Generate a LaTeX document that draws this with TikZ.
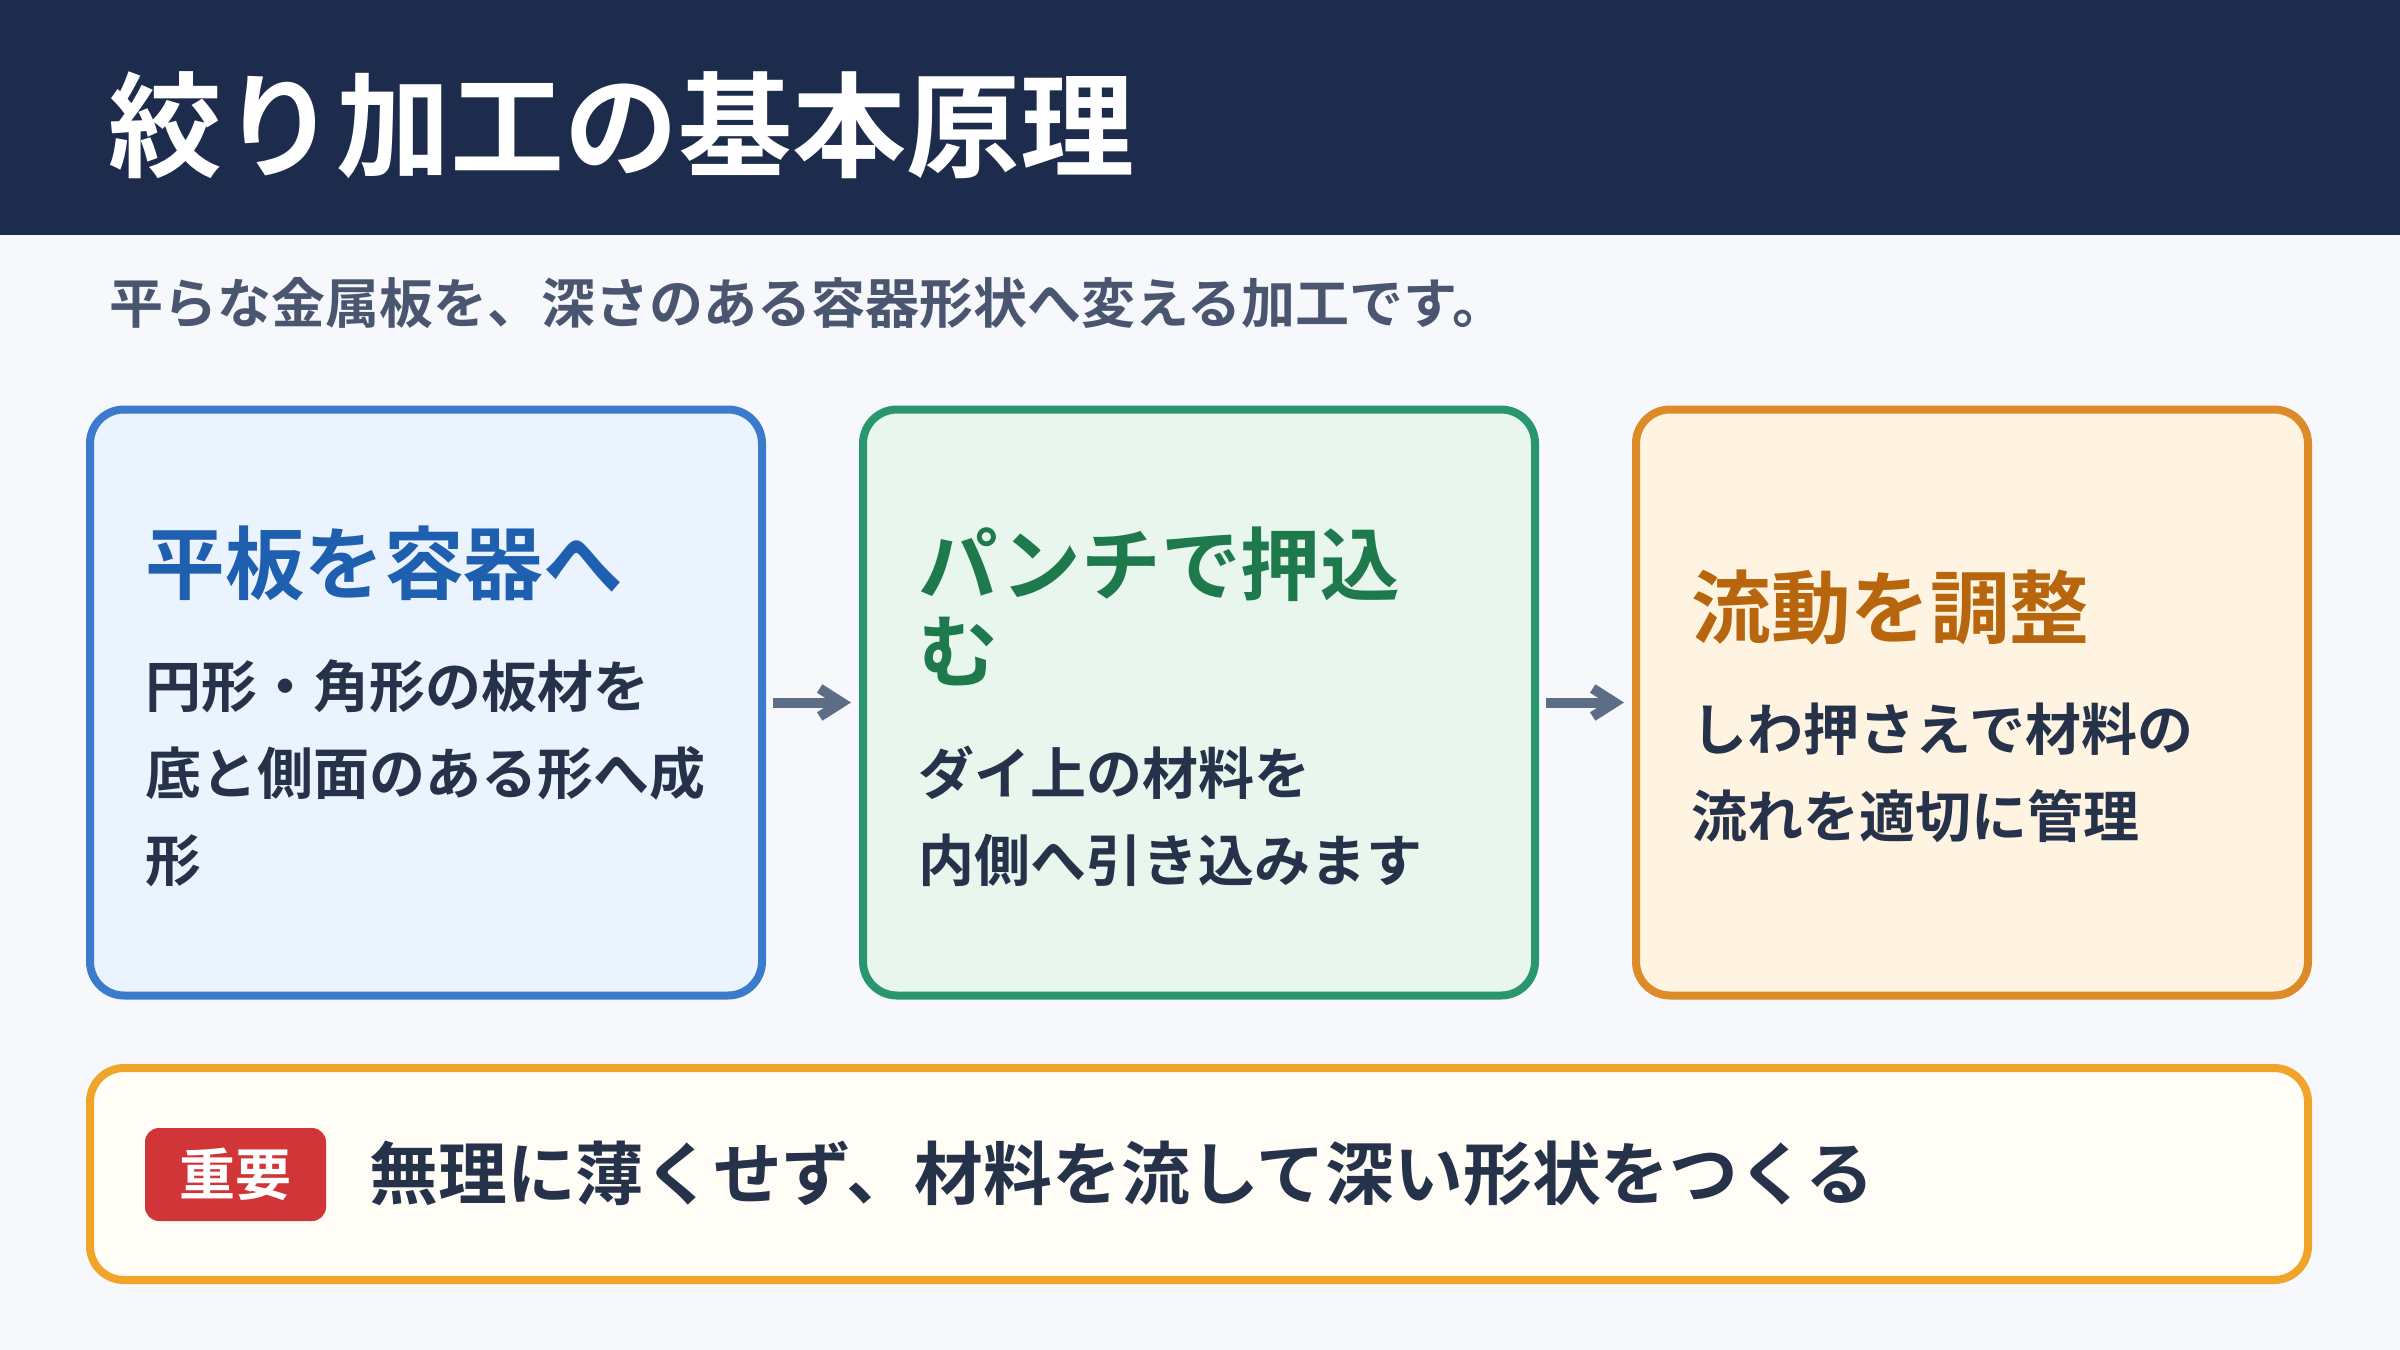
\documentclass[tikz,border=0pt]{standalone}
\usepackage{fontspec}
\setmainfont{Noto Sans CJK JP}[BoldFont={Noto Sans CJK JP Bold}]
\usepackage{xcolor}
\usetikzlibrary{arrows.meta, positioning}

\definecolor{pagebg}{HTML}{F6F8FC}
\definecolor{headbg}{HTML}{1D2B4C}
\definecolor{subgray}{HTML}{4A5670}
\definecolor{ink}{HTML}{25324A}
\definecolor{arrgray}{HTML}{5E6D86}
\definecolor{blueln}{HTML}{3A7BCB}
\definecolor{bluebg}{HTML}{EBF3FF}
\definecolor{bluetx}{HTML}{1F5FAF}
\definecolor{greenln}{HTML}{2A9670}
\definecolor{greenbg}{HTML}{E8F6EE}
\definecolor{greentx}{HTML}{1E7A4C}
\definecolor{orangeln}{HTML}{DD8A28}
\definecolor{orangebg}{HTML}{FFF4E1}
\definecolor{orangetx}{HTML}{B8660E}
\definecolor{noteln}{HTML}{F0A52A}
\definecolor{notebg}{HTML}{FFFDF6}
\definecolor{badgered}{HTML}{D13537}

\tikzset{
  stage/.style={draw=#1ln, fill=#1bg, line width=4pt, rounded corners=17pt,
    minimum width=336pt, minimum height=293pt, inner sep=0pt},
  stagehead/.style={anchor=west, inner sep=0pt, align=left, text=#1tx,
    font=\fontsize{39.8pt}{43.5pt}\selectfont\bfseries},
  stagetext/.style={anchor=west, inner sep=0pt, align=left, text=ink,
    font=\fontsize{28pt}{43.5pt}\selectfont\bfseries},
  flow/.style={arrgray, line width=5pt, -{Straight Barb[length=11pt,width=14pt]},
    shorten <=3.5pt, shorten >=4pt},
}

\begin{document}
\begin{tikzpicture}[x=0.5pt, y=-0.5pt]
  % page and header band
  \fill[pagebg] (0,0) rectangle (2400,1350);
  \useasboundingbox (0,0) rectangle (2400,1350);
  \fill[headbg] (0,0) rectangle (2400,235);

  \node[anchor=west, inner sep=0pt, text=white,
    font=\fontsize{57pt}{60pt}\selectfont\bfseries] (title) at (108,125) {絞り加工の基本原理};
  \node[anchor=west, inner sep=0pt, text=subgray,
    font=\fontsize{27pt}{30pt}\selectfont\bfseries] (lead) at (109,303) {平らな金属板を、深さのある容器形状へ変える加工です。};

  % three stages
  \foreach[count=\i] \col/\x in {blue/426, green/1199, orange/1972}
    \node[stage=\col] (box\i) at (\x,702.5) {};

  \node[stagehead=blue] (head1) at (145,563) {平板を容器へ};
  \node[stagetext] (body1) at (145,773) {円形・角形の板材を\\底と側面のある形へ成\\形};

  \node[stagehead=green] (head2) at (918,606.5) {パンチで押込\\む};
  \node[stagetext] (body2) at (918,816.5) {ダイ上の材料を\\内側へ引き込みます};

  \node[stagehead=orange] (head3) at (1691,608) {流動を調整};
  \node[stagetext] (body3) at (1691,773) {しわ押さえで材料の\\流れを適切に管理};

  \draw[flow] (box1) -- (box2);
  \draw[flow] (box2) -- (box3);

  % key point
  \node[draw=noteln, fill=notebg, line width=4pt, rounded corners=17pt,
    minimum width=1109pt, minimum height=106pt] (note) at (1199,1174) {};
  \node[fill=badgered, rounded corners=7pt, minimum width=90.5pt, minimum height=46.5pt,
    inner sep=0pt, text=white, font=\fontsize{28pt}{32pt}\selectfont\bfseries] (badge) at (235.5,1174.5) {重要};
  \node[anchor=west, inner sep=0pt, text=ink,
    font=\fontsize{34.4pt}{40pt}\selectfont\bfseries] (keytext) at (369,1174) {無理に薄くせず、材料を流して深い形状をつくる};
\end{tikzpicture}
\end{document}
